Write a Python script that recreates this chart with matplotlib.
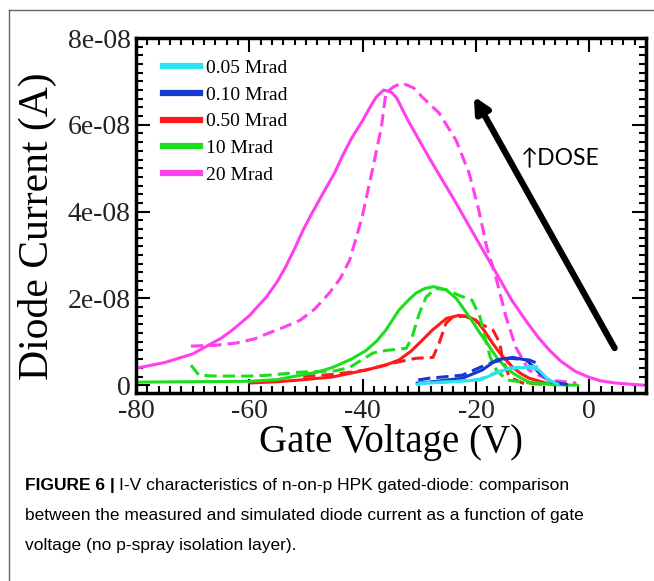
import matplotlib
matplotlib.use('Agg')
import matplotlib.pyplot as plt
import numpy as np
from matplotlib.lines import Line2D
from matplotlib.ticker import MultipleLocator, FuncFormatter

plt.rcParams['axes.unicode_minus'] = False

SCALE = 1e-8  # currents below are in units of 1e-8 A

# 20 Mrad
mag_sim_v = [-80, -75, -70, -67.5, -65, -63, -60, -57, -55, -53.5, -52, -50.6, -49, -47, -45,
             -43.5, -42, -40, -38.5, -37.6, -36.3, -35, -34, -32, -28, -23.8, -19.6, -16.5,
             -13.7, -11, -9, -7, -5, -2.5, 0, 2, 4.6, 9.5]
mag_sim_i = [0.39, 0.52, 0.72, 0.9, 1.08, 1.27, 1.6, 2.03, 2.4, 2.75, 3.15, 3.55, 3.95, 4.42, 4.88,
             5.3, 5.68, 6.1, 6.45, 6.64, 6.8, 6.76, 6.62, 6.1, 5.18, 4.26, 3.3, 2.6,
             1.96, 1.45, 1.1, 0.8, 0.55, 0.32, 0.18, 0.1, 0.05, 0.0]
mag_meas_v = [-70.3, -66, -62.4, -59, -56.6, -54, -51, -48.5, -45.9, -44, -42.3, -40.1, -38.3,
              -36.7, -35.9, -34.5, -33, -31, -29.5, -26.5, -23.5, -21.2, -19.5, -18.1, -16.5,
              -14.7, -13, -10.7, -7.2, -2.3]
mag_meas_i = [0.9, 0.92, 0.97, 1.07, 1.2, 1.33, 1.5, 1.75, 2.12, 2.45, 2.88, 3.87, 4.95,
              5.94, 6.73, 6.88, 6.96, 6.85, 6.64, 6.27, 5.64, 4.88, 4.03, 3.18, 2.49,
              1.57, 0.88, 0.35, 0.12, 0.05]

# 10 Mrad
green_sim_v = [-80, -60, -55, -51, -48, -45.3, -42, -39.4, -37.5, -35.9, -33.6, -32, -30.6,
               -29, -27.5, -25.3, -23.5, -22.4, -20.8, -19.3, -17.8, -16.4, -15, -13.5, -12,
               -10.6, -8, -6, -2]
green_sim_i = [0.07, 0.09, 0.13, 0.23, 0.3, 0.41, 0.6, 0.8, 1.02, 1.27, 1.73, 1.95, 2.12,
               2.23, 2.27, 2.2, 2.0, 1.8, 1.5, 1.2, 0.92, 0.65, 0.44, 0.28, 0.16,
               0.07, 0.03, 0.01, 0.0]
green_meas_v = [-70.3, -69.5, -68.9, -66, -60, -56.6, -51, -44.8, -42.3, -38.2, -35.9, -32.3,
                -31.3, -30, -28.8, -27.1, -25.3, -23, -20.7, -19.3, -18.4, -17.5, -16.4, -14.6,
                -10.6, -4]
green_meas_i = [0.46, 0.33, 0.23, 0.21, 0.21, 0.23, 0.3, 0.33, 0.41, 0.74, 0.8, 0.85,
                1.1, 1.66, 2.03, 2.23, 2.2, 2.07, 1.96, 1.57, 1.1, 0.65, 0.35, 0.12,
                0.05, 0.02]

# 0.50 Mrad
red_sim_v = [-60, -55, -51, -45.3, -39.4, -36, -33.6, -31.5, -30, -27.7, -25.2, -23, -21.5, -20,
             -18.5, -17.1, -15.3, -13.5, -12, -10.6, -7.7, -4]
red_sim_i = [0.05, 0.08, 0.12, 0.19, 0.35, 0.46, 0.58, 0.78, 0.97, 1.27, 1.54, 1.61, 1.58, 1.5,
             1.25, 0.97, 0.66, 0.41, 0.26, 0.16, 0.05, 0.01]
red_meas_v = [-50.5, -45, -39.4, -35, -30.6, -27.6, -26.5, -25.3, -24.1, -21.8, -19.0, -17.0,
              -15.8, -15.3, -14.1, -11.8, -8]
red_meas_i = [0.2, 0.25, 0.35, 0.5, 0.62, 0.64, 0.97, 1.43, 1.57, 1.59, 1.4, 1.27,
              0.97, 0.58, 0.19, 0.05, 0.02]

# 0.10 Mrad
blue_sim_v = [-30.4, -28.3, -22.4, -18.9, -16.4, -13.5, -11.1, -8.8, -6.6, -4]
blue_sim_i = [0.05, 0.07, 0.16, 0.35, 0.58, 0.64, 0.58, 0.28, 0.07, 0.02]
blue_meas_v = [-30.2, -28.3, -22.4, -19.3, -17, -14, -10.6, -9.5]
blue_meas_i = [0.12, 0.16, 0.23, 0.41, 0.53, 0.62, 0.58, 0.52]

# 0.05 Mrad
cyan_sim_v = [-30.4, -28.3, -19.3, -16.4, -14.1, -10.6, -8.9, -7.2, -5.5]
cyan_sim_i = [0.02, 0.05, 0.12, 0.28, 0.39, 0.41, 0.35, 0.12, 0.02]
cyan_meas_v = [-30.2, -24, -19.3, -16.4, -13.5, -10.6, -8.5]
cyan_meas_i = [0.05, 0.08, 0.14, 0.3, 0.4, 0.43, 0.42]

labels = ['0.05 Mrad', '0.10 Mrad', '0.50 Mrad', '10 Mrad', '20 Mrad']
colors = ['#2ee3f0', '#1438d0', '#ff1a1a', '#1edc1e', '#ff40ec']

fig = plt.figure(figsize=(6.54, 5.81), dpi=100)
ax = fig.add_axes([136/654, 1 - 393/581, 510/654, 355/581])

series = [
    (mag_sim_v, mag_sim_i, mag_meas_v, mag_meas_i, colors[4]),
    (red_sim_v, red_sim_i, red_meas_v, red_meas_i, colors[2]),
    (green_sim_v, green_sim_i, green_meas_v, green_meas_i, colors[3]),
    (blue_sim_v, blue_sim_i, blue_meas_v, blue_meas_i, colors[1]),
    (cyan_sim_v, cyan_sim_i, cyan_meas_v, cyan_meas_i, colors[0]),
]
for sv, si, mv, mi, c in series:
    ax.plot(sv, np.array(si) * SCALE, color=c, lw=2.2, solid_capstyle='round', solid_joinstyle='round')
    ax.plot(mv, np.array(mi) * SCALE, color=c, lw=2.2, ls=(0, (4, 2)))

handles = [Line2D([], [], color=c, lw=4.5) for c in colors]
ax.legend(handles, labels, loc='upper left', bbox_to_anchor=(0.052, 0.94), frameon=False,
          prop={'family': 'Liberation Serif', 'size': 14}, handlelength=1.95,
          handletextpad=0.3, labelspacing=0.47, borderpad=0, borderaxespad=0)

ax.set_xlim(-80, 10)
ax.set_ylim(-0.18e-8, 8e-8)
ax.xaxis.set_major_locator(MultipleLocator(20))
ax.xaxis.set_minor_locator(MultipleLocator(2))
ax.yaxis.set_major_locator(MultipleLocator(2e-8))
ax.yaxis.set_minor_locator(MultipleLocator(0.2e-8))
ax.yaxis.set_major_formatter(FuncFormatter(lambda v, p: '0' if abs(v) < 1e-12 else f'{v:.0e}'))
ax.tick_params(which='both', direction='in', top=True, right=True, width=1.5,
               labelsize=20, labelcolor='#222222', pad=4)
ax.tick_params(which='major', length=10)
ax.tick_params(which='minor', length=5)
for lab in ax.get_xticklabels() + ax.get_yticklabels():
    lab.set_family('Liberation Serif')
for s in ax.spines.values():
    s.set_linewidth(2.5)

ax.set_xlabel('Gate Voltage (V)', family='Liberation Serif', fontsize=28, labelpad=0)
ax.set_ylabel('Diode Current (A)', family='Liberation Serif', fontsize=30)
ax.yaxis.set_label_coords(-0.155, 0.47)

# dose arrow
ax.annotate('', xy=(-20.6, 6.71e-8), xytext=(4.7, 0.8e-8),
            arrowprops=dict(arrowstyle='-|>,head_length=0.9,head_width=0.45', color='black', lw=4.5))
ax.text(-12.0, 5.07e-8, '↑DOSE', family=['Lato', 'DejaVu Sans'], fontsize=16.5,
        ha='left', va='baseline')

# frame of the figure panel
fig.add_artist(Line2D([9/654, 1], [1 - 10/581, 1 - 10/581], color='#666666', lw=1))
fig.add_artist(Line2D([9/654, 9/654], [0, 1 - 10/581], color='#666666', lw=1))

cap_font = 'Liberation Sans'
cap_size = 12.5
y0 = 1 - 490/581
t1 = fig.text(25/654, y0, 'FIGURE 6 |', family=cap_font, fontsize=cap_size, fontweight='bold')
fig.canvas.draw()
bb = t1.get_window_extent()
fig.text((bb.x1 + 4) / 654, y0, 'I-V characteristics of n-on-p HPK gated-diode: comparison',
         family=cap_font, fontsize=cap_size)
fig.text(25/654, y0 - 30/581, 'between the measured and simulated diode current as a function of gate',
         family=cap_font, fontsize=cap_size)
fig.text(25/654, y0 - 60/581, 'voltage (no p-spray isolation layer).', family=cap_font, fontsize=cap_size)

fig.savefig('out.png', dpi=100)
